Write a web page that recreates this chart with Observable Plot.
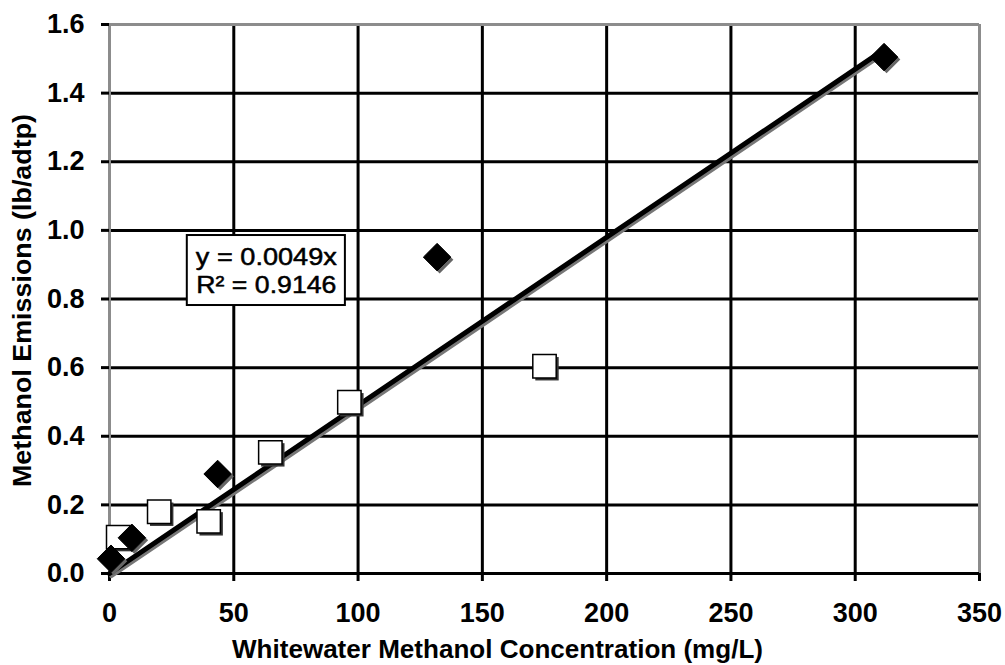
<!DOCTYPE html>
<html>
<head>
<meta charset="utf-8">
<script src="https://cdn.jsdelivr.net/npm/d3@7"></script>
<script src="https://cdn.jsdelivr.net/npm/@observablehq/plot@0.6"></script>
<style>
  html, body { margin: 0; padding: 0; background: #fff; }
  svg { display: block; }
</style>
</head>
<body>
<div id="chart"></div>
<script>
// ---- data ----
const diamondX = [0.6, 9, 43.5, 131.8, 311.6];
const diamondY = [0.043, 0.104, 0.29, 0.922, 1.505];
const squareX = [3.5, 20, 39.9, 64.7, 96.5, 175];
const squareY = [0.106, 0.18, 0.152, 0.353, 0.499, 0.604];
const trendSlope = 0.0049;
const trendXRange = [0, 311.6];
const xTicks = [0, 50, 100, 150, 200, 250, 300, 350];
const yTicks = [0, 0.2, 0.4, 0.6, 0.8, 1.0, 1.2, 1.4, 1.6];
const xLabel = "Whitewater Methanol Concentration (mg/L)";
const yLabel = "Methanol Emissions (lb/adtp)";
const eqLines = ["y = 0.0049x", "R² = 0.9146"];
const eqBox = {x1: 31.3, x2: 94.9, y1: 0.781, y2: 0.985};

const diamonds = diamondX.map((x, i) => ({x, y: diamondY[i]}));
const squares = squareX.map((x, i) => ({x, y: squareY[i]}));
const trend = trendXRange.map(x => ({x, y: trendSlope * x}));
const xMax = xTicks[xTicks.length - 1];
const yMax = yTicks[yTicks.length - 1];
const eqMidX = (eqBox.x1 + eqBox.x2) / 2;
const eqMidY = (eqBox.y1 + eqBox.y2) / 2;

const font = "'Liberation Sans', Arial, sans-serif";

const chart = Plot.plot({
  width: 1005,
  height: 665,
  marginLeft: 109,
  marginRight: 26,
  marginTop: 24,
  marginBottom: 92,
  style: {fontFamily: font, fontWeight: "bold", background: "#fff", color: "#000"},
  x: {domain: [0, xMax]},
  y: {domain: [0, yMax]},
  marks: [
    // grid
    Plot.ruleX(xTicks.filter(d => d > 0 && d < xMax), {stroke: "#000", strokeWidth: 3}),
    Plot.ruleY(yTicks.filter(d => d > 0 && d < yMax), {stroke: "#000", strokeWidth: 3}),
    // frame (gray left/top/right)
    Plot.ruleX([0, xMax], {stroke: "#8c8c8c", strokeWidth: 3}),
    Plot.ruleY([yMax], {stroke: "#8c8c8c", strokeWidth: 3}),
    Plot.ruleY([0], {stroke: "#000", strokeWidth: 3}),
    // axes
    Plot.axisX({ticks: xTicks, tickSize: 8, tickPadding: 21, strokeWidth: 3, fontSize: 27, label: null, tickFormat: d3.format("d")}),
    Plot.axisY({ticks: yTicks, tickSize: 8, tickPadding: 17, strokeWidth: 3, fontSize: 27, label: null, tickFormat: d3.format(".1f")}),
    // axis labels
    Plot.text([xLabel], {frameAnchor: "bottom", textAnchor: "middle", dx: -47, dy: 76, fontSize: 26, fontWeight: "bold", lineAnchor: "middle", text: d => d}),
    Plot.text([yLabel], {frameAnchor: "left", textAnchor: "middle", dx: -87, dy: 1.5, rotate: -90, fontSize: 26, fontWeight: "bold", lineAnchor: "middle", text: d => d}),
    // trend line with shadow
    Plot.line(trend, {x: "x", y: "y", stroke: "#777", strokeWidth: 5, dx: 2, dy: 2}),
    Plot.line(trend, {x: "x", y: "y", stroke: "#000", strokeWidth: 5}),
    // equation box
    Plot.rect([eqBox], {x1: "x1", x2: "x2", y1: "y1", y2: "y2", fill: "#fff", stroke: "#000", strokeWidth: 2}),
    Plot.text([eqLines[0]], {x: eqMidX, y: eqMidY, dy: -13, text: d => d, fontSize: 24, fontWeight: "normal", fill: "#000", stroke: "#000", strokeWidth: 0.5, lineAnchor: "middle"}),
    Plot.text([eqLines[1]], {x: eqMidX, y: eqMidY, dy: 15, text: d => d, fontSize: 24, fontWeight: "normal", fill: "#000", stroke: "#000", strokeWidth: 0.5, lineAnchor: "middle"}),
    // squares with shadow
    Plot.dot(squares, {x: "x", y: "y", symbol: "square", r: 13.2, fill: "#333", dx: 2.5, dy: 2.5}),
    Plot.dot(squares, {x: "x", y: "y", symbol: "square", r: 13.2, fill: "#fff", stroke: "#000", strokeWidth: 1.5}),
    // diamonds with shadow
    Plot.dot(diamonds, {x: "x", y: "y", symbol: "diamond2", r: 12.4, fill: "#666", dx: 2.5, dy: 2.5}),
    Plot.dot(diamonds, {x: "x", y: "y", symbol: "diamond2", r: 12.4, fill: "#000", stroke: "#000", strokeWidth: 1})
  ]
});

// fit text widths to reference
const fits = new Map([
  [xLabel, 531],
  [yLabel, 373],
  [eqLines[0], 141],
  [eqLines[1], 140]
]);
chart.querySelectorAll("text").forEach(t => {
  const s = t.textContent;
  if (fits.has(s)) {
    t.setAttribute("textLength", fits.get(s));
    t.setAttribute("lengthAdjust", "spacingAndGlyphs");
  }
});
document.getElementById("chart").appendChild(chart);
</script>
</body>
</html>
